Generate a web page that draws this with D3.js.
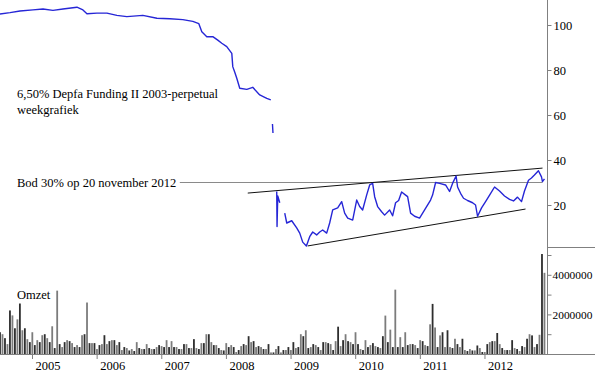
<!DOCTYPE html>
<html><head><meta charset="utf-8">
<script src="https://cdn.jsdelivr.net/npm/d3@7"></script>
<style>
body{margin:0;background:#fff}
svg{display:block}
text{font-family:"Liberation Serif","Times New Roman",serif;fill:#000}
</style>
</head><body>
<svg id="c" width="595" height="372"></svg>
<script>
// ---- data ----
const priceYears = [
 2004.505,2004.660,2004.814,2005.015,2005.170,2005.324,2005.479,2005.695,2005.788,2005.850,
 2006.004,2006.159,2006.313,2006.468,2006.715,2006.932,2007.133,2007.333,2007.488,2007.581,
 2007.627,2007.704,2007.797,2007.874,2007.936,2008.013,2008.091,2008.106,2008.137,2008.168,
 2008.214,2008.323,2008.415,2008.523,2008.632,2008.694,2008.707,
 2008.720,2008.728,2008.760,
 2008.786,2008.791,2008.802,2008.833,2008.870,
 2008.910,2008.941,2009.018,2009.095,2009.142,2009.188,2009.245,2009.296,2009.343,2009.404,
 2009.451,2009.497,2009.559,2009.605,2009.652,2009.729,2009.791,2009.837,2009.884,2009.961,
 2010.023,2010.069,2010.115,2010.177,2010.224,2010.270,2010.301,2010.347,2010.409,2010.455,
 2010.533,2010.579,2010.625,2010.672,2010.718,2010.780,2010.811,2010.857,2010.919,2010.996,
 2011.074,2011.166,2011.197,2011.244,2011.306,2011.398,2011.460,2011.506,2011.561,2011.584,
 2011.630,2011.676,2011.738,2011.816,2011.862,2011.893,2011.955,2012.017,2012.079,2012.156,
 2012.233,2012.310,2012.388,2012.449,2012.511,2012.573,2012.619,2012.681,2012.727,2012.773,
 2012.835,2012.882,2012.897,2012.928
];
const priceValues = [
 104.9,105.5,106.2,106.7,107.1,106.5,107.1,107.9,106.7,105.0,
 105.3,105.3,104.3,103.7,104.3,103.0,102.8,102.4,101.6,100.6,
 97.0,94.8,94.8,93.3,91.9,90.4,87.4,81.5,79.0,76.3,
 71.9,71.4,72.3,68.9,67.4,66.7,null,
 56,52,null,
 26,10.4,24,21,null,
 16.4,12,13,9.8,7.5,3.5,1.8,5.9,8,6.7,
 8,8.9,7.5,12,17.8,18.7,21.5,16.4,14.2,13.3,
 22.2,19.3,17.8,24.4,28.9,29.6,23.7,19.3,17,15.5,
 17.8,15.2,21,22,25.8,24.4,23.7,16.4,15,14.2,
 17.8,22.2,24.4,30,29.6,28.9,26,29.6,32.9,28,
 25.2,23,22,21,20,15,18.7,21.5,24.4,28,
 26.2,24,22.5,21.8,23.5,21.5,26.2,31,32,33.3,
 35.2,32.5,30.4,31.6
];
const volumeStart = 2004.505;      // first bar (decimal year)
const volumeStep = 1 / 26;         // two weeks
const volumeMillions = [
 1.1,1.0,0.8,0.5,2.2,1.95,1.3,1.75,2.55,1.2,
 1.3,0.75,0.6,1.1,0.45,0.7,0.6,0.95,1.0,0.8,
 0.6,1.4,0.3,3.2,0.5,0.35,0.6,0.7,0.65,0.55,
 0.35,0.45,0.35,0.95,1.0,2.6,0.55,0.55,0.55,0.25,
 0.45,0.5,0.95,0.5,0.65,0.7,0.7,0.45,0.6,0.2,
 0.35,0.3,0.18,0.25,0.15,0.6,0.3,0.25,0.25,0.5,
 0.3,0.25,0.25,0.35,0.45,0.4,0.35,0.7,0.35,0.65,
 0.35,0.35,0.25,0.25,0.5,0.5,0.3,0.3,0.75,0.3,
 0.25,0.55,0.55,1.0,1.0,0.6,0.45,0.45,0.3,0.2,
 0.18,0.55,0.35,0.45,0.35,0.1,0.2,0.4,0.5,0.45,
 0.9,0.6,0.65,0.35,0.4,0.35,0.25,0.25,0.5,0.08,
 0.08,0.25,0.4,0.08,0.2,0.2,0.35,0.2,0.6,0.3,
 0.35,1.0,0.9,1.2,0.3,0.35,0.5,0.45,0.35,0.2,
 0.6,0.6,0.55,0.5,0.2,0.65,1.38,0.4,0.7,1.0,
 0.65,0.6,0.5,1.1,0.5,0.25,0.2,0.7,0.35,0.45,
 0.55,0.4,0.35,0.3,0.9,1.94,0.6,1.23,0.35,3.25,
 0.35,0.85,0.35,1.1,0.45,0.5,0.5,0.45,0.3,0.7,
 0.65,0.45,0.4,1.5,2.53,1.34,0.35,0.94,1.1,0.35,
 1.2,0.35,0.3,0.77,0.5,0.35,0.77,0.2,0.15,0.25,
 0.18,0.18,0.43,0.3,0.1,0.1,0.5,0.6,0.65,0.65,
 1.06,0.5,0.3,0.2,0.2,0.2,0.7,0.3,0.25,0.15,
 0.4,0.35,0.77,1.0,0.94,0.35,0.5,0.97,5.05,4.1
];
const yearTicks = [2005,2006,2007,2008,2009,2010,2011,2012];
const priceTicks = [20,40,60,80,100];
const volumeTicks = [1000000,2000000,3000000,4000000,5000000];
const volumeLabelled = [2000000,4000000];
const upperTrend = [[2008.338,25.3],[2012.898,36.4]];
const lowerTrend = [[2009.265,1.8],[2012.635,18.2]];
const bidLine = [[2007.287,30],[2012.898,30]];
const titleLines = ["6,50% Depfa Funding II 2003-perpetual","weekgrafiek"];
const bidLabel = "Bod 30% op 20 november 2012";
const volumeLabel = "Omzet";

// ---- layout ----
const W = 595, H = 372;
const axisX = 547.5;
const priceBottom = 247, volBottom = 354;
const fs = 12.5;
const svg = d3.select("#c");

const x = d3.scaleLinear().domain([2004.505, 2012.975]).range([0, axisX]);
const yP = d3.scaleLinear().domain([0, 100]).range([250, 25]);
const yV = d3.scaleLinear().domain([0, 5000000]).range([volBottom, 255]);

svg.append("defs").append("clipPath").attr("id","plot")
  .append("rect").attr("x",0).attr("y",0).attr("width",axisX).attr("height",volBottom);

// volume bars
const vg = svg.append("g").attr("clip-path","url(#plot)");
const bw = 1.8;
vg.selectAll("rect").data(volumeMillions).join("rect")
  .attr("x",(d,i)=>x(volumeStart + i*volumeStep) - bw/2)
  .attr("width",bw)
  .attr("y",d=>yV(d*1e6))
  .attr("height",d=>volBottom - yV(d*1e6))
  .attr("fill",(d,i)=> i%2 ? "#7c7c7c" : "#2e2e2e");

// lines
const lineGen = d3.line().x(d=>x(d[0])).y(d=>yP(d[1]));
svg.append("path").attr("d",lineGen(bidLine)).attr("stroke","#8a8a8a").attr("stroke-width",1).attr("fill","none");
svg.append("path").attr("d",lineGen(upperTrend)).attr("stroke","#111").attr("stroke-width",1).attr("fill","none");
svg.append("path").attr("d",lineGen(lowerTrend)).attr("stroke","#111").attr("stroke-width",1).attr("fill","none");

// price
const pts = priceYears.map((t,i)=>[t, priceValues[i]]);
const pLine = d3.line().defined(d=>d[1]!==null).x(d=>x(d[0])).y(d=>yP(d[1]));
svg.append("g").attr("clip-path","url(#plot)").append("path")
  .attr("d",pLine(pts)).attr("stroke","#2626d6").attr("stroke-width",1.4)
  .attr("fill","none").attr("stroke-linejoin","round");

// frame lines
const grey = "#808080";
svg.append("line").attr("x1",axisX).attr("x2",axisX).attr("y1",0).attr("y2",volBottom).attr("stroke",grey);
svg.append("line").attr("x1",0).attr("x2",W).attr("y1",volBottom+0.5).attr("y2",volBottom+0.5).attr("stroke",grey);
svg.append("line").attr("x1",axisX).attr("x2",W).attr("y1",priceBottom+0.5).attr("y2",priceBottom+0.5).attr("stroke",grey);

// price axis
const pa = svg.append("g").attr("transform",`translate(${axisX},0)`)
  .call(d3.axisRight(yP).tickValues(priceTicks).tickSize(4).tickPadding(2));
// volume axis
const va = svg.append("g").attr("transform",`translate(${axisX},0)`)
  .call(d3.axisRight(yV).tickValues(volumeTicks).tickSize(4).tickPadding(1)
    .tickFormat(v=> volumeLabelled.includes(v) ? String(v) : ""));
// year axis
const xa = svg.append("g").attr("transform",`translate(0,${volBottom})`)
  .call(d3.axisBottom(x).tickValues(yearTicks).tickSize(5).tickPadding(3).tickFormat(d3.format("d")));
[pa,va,xa].forEach(g=>{
  g.select(".domain").remove();
  g.selectAll(".tick line").attr("stroke",grey);
  g.selectAll(".tick text").attr("font-size",fs).attr("fill","#000")
    .attr("font-family",'"Liberation Serif","Times New Roman",serif');
});
va.selectAll(".tick text").attr("font-size",11.4);
xa.selectAll(".tick text").attr("text-anchor","start").attr("x",3).attr("dy","0.6em");

// annotations
svg.append("text").attr("x",17).attr("y",97.5).attr("font-size",fs).text(titleLines[0]);
svg.append("text").attr("x",17).attr("y",113.5).attr("font-size",fs).text(titleLines[1]);
svg.append("text").attr("x",17).attr("y",186.5).attr("font-size",fs).text(bidLabel);
svg.append("text").attr("x",17).attr("y",299).attr("font-size",fs).text(volumeLabel);
</script>
</body></html>
